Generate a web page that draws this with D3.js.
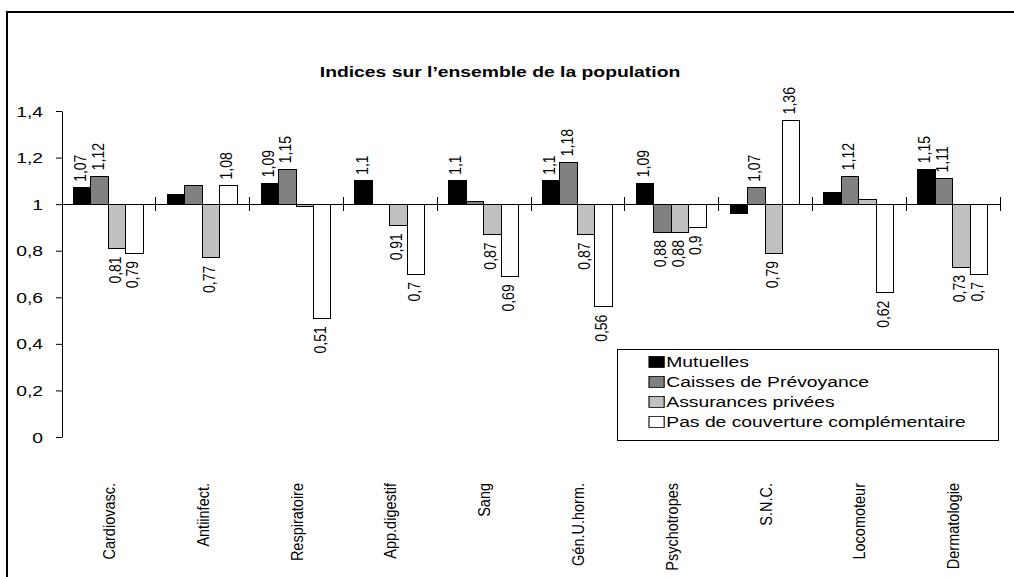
<!DOCTYPE html>
<html lang="fr">
<head>
<meta charset="UTF-8">
<title>Indices sur l'ensemble de la population</title>
<script src="https://d3js.org/d3.v7.min.js"></script>
<style>
  body { margin: 0; background: #fff; }
  svg { display: block; font-family: Arial, "Liberation Sans", sans-serif; }
  text { fill: #000; }
</style>
</head>
<body>
<svg width="1014" height="577"></svg>
<script>
// données
const categories = ["Cardiovasc.", "Antiinfect.", "Respiratoire", "App.digestif", "Sang",
                    "Gén.U.horm.", "Psychotropes", "S.N.C.", "Locomoteur", "Dermatologie"];
const seriesNames = ["Mutuelles", "Caisses de Prévoyance", "Assurances privées",
                     "Pas de couverture complémentaire"];
const mutuelles   = [1.07, 1.04, 1.09, 1.10, 1.10, 1.10, 1.09, 0.96, 1.05, 1.15];
const caisses     = [1.12, 1.08, 1.15, 1.00, 1.01, 1.18, 0.88, 1.07, 1.12, 1.11];
const assurances  = [0.81, 0.77, 0.99, 0.91, 0.87, 0.87, 0.88, 0.79, 1.02, 0.73];
const sansCouv    = [0.79, 1.08, 0.51, 0.70, 0.69, 0.56, 0.90, 1.36, 0.62, 0.70];
// étiquettes absentes dans l'original : [catégorie, série]
const hiddenLabels = [[1, 0], [1, 1], [2, 2], [3, 1], [4, 1], [7, 0], [8, 0], [8, 2]];
const yTicks = [0, 0.2, 0.4, 0.6, 0.8, 1, 1.2, 1.4];

const values = [mutuelles, caisses, assurances, sansCouv];
const colors = ["#000000", "#808080", "#c0c0c0", "#ffffff"];
const sx = 1.38;   // l'image d'origine est étirée horizontalement
const sxRot = 1.2; // texte vertical
const fmt = d => String(+d.toFixed(2)).replace(".", ",");

const svg = d3.select("svg");
const mLeft = 62, mRight = 1000, mTop = 111, mBottom = 437;

// cadre
svg.append("rect")
  .attr("x", 7).attr("y", 12).attr("width", 1020).attr("height", 580)
  .attr("fill", "none").attr("stroke", "#000").attr("stroke-width", 2);

// titre
svg.append("text")
  .attr("transform", `translate(500,77) scale(${sx},1)`)
  .attr("text-anchor", "middle")
  .style("font-size", "14px").style("font-weight", "bold")
  .text("Indices sur l\u2019ensemble de la population");

const x0 = d3.scaleBand().domain(categories).range([mLeft, mRight]);
const x1 = d3.scaleBand().domain(d3.range(4))
  .range([11.5, x0.bandwidth() - 12.5]);
const y = d3.scaleLinear().domain([0, 1.4]).range([mBottom, mTop]);

// axe Y
const yAxis = svg.append("g")
  .attr("transform", `translate(${mLeft},0)`)
  .call(d3.axisLeft(y).tickValues(yTicks).tickFormat(fmt).tickSize(6).tickSizeOuter(0));
yAxis.select(".domain").attr("stroke", "#000");
yAxis.selectAll(".tick line").attr("stroke", "#000");
yAxis.selectAll(".tick text")
  .attr("x", null).attr("dy", null)
  .attr("transform", `translate(-19,5) scale(${sx},1)`)
  .style("font-size", "14px").style("font-family", "Arial, 'Liberation Sans', sans-serif")
  .attr("fill", "#000");

// barres
const rows = [];
categories.forEach((c, i) => {
  values.forEach((s, j) => rows.push({ c, i, j, v: s[i] }));
});
const hidden = new Set(hiddenLabels.map(d => d[0] + "-" + d[1]));

svg.append("g").attr("shape-rendering", "crispEdges").selectAll("rect")
  .data(rows).join("rect")
  .attr("x", d => x0(d.c) + x1(d.j))
  .attr("width", x1.bandwidth())
  .attr("y", d => y(Math.max(d.v, 1)))
  .attr("height", d => Math.abs(y(d.v) - y(1)))
  .attr("fill", d => colors[d.j])
  .attr("stroke", "#000").attr("stroke-width", 1);

// ligne de base à 1 avec graduations
const base = svg.append("g").attr("shape-rendering", "crispEdges");
base.append("line")
  .attr("x1", mLeft).attr("x2", mRight).attr("y1", y(1)).attr("y2", y(1))
  .attr("stroke", "#000");
base.selectAll("line.tk")
  .data(d3.range(categories.length + 1)).join("line")
  .attr("class", "tk")
  .attr("x1", i => mLeft + i * x0.step()).attr("x2", i => mLeft + i * x0.step())
  .attr("y1", y(1) - 7).attr("y2", y(1) + 7)
  .attr("stroke", "#000");

// étiquettes de valeurs
svg.append("g").selectAll("text")
  .data(rows.filter(d => !hidden.has(d.i + "-" + d.j))).join("text")
  .attr("transform", d => {
    const cx = x0(d.c) + x1(d.j) + x1.bandwidth() / 2 - 2;
    const yy = d.v >= 1 ? y(d.v) - 6 : y(d.v) + 8;
    return `translate(${cx},${yy}) scale(${sxRot},1) rotate(-90)`;
  })
  .attr("text-anchor", d => d.v >= 1 ? "start" : "end")
  .attr("dy", "0.35em")
  .style("font-size", "14px")
  .text(d => fmt(d.v));

// axe des catégories
const xAxis = svg.append("g")
  .attr("transform", `translate(0,483)`)
  .call(d3.axisBottom(x0).tickSize(0));
xAxis.select(".domain").remove();
xAxis.selectAll(".tick text")
  .attr("y", null).attr("dy", null)
  .attr("transform", `scale(${sxRot},1) rotate(-90)`)
  .attr("text-anchor", "end")
  .attr("dy", "0.35em")
  .attr("fill", "#000")
  .style("font-size", "14.5px").style("font-family", "Arial, 'Liberation Sans', sans-serif");

// légende
const legend = svg.append("g");
legend.append("rect")
  .attr("x", 617.5).attr("y", 349.5).attr("width", 381).attr("height", 91)
  .attr("fill", "#fff").attr("stroke", "#000");
const items = legend.selectAll("g.item")
  .data(seriesNames).join("g")
  .attr("class", "item")
  .attr("transform", (d, i) => `translate(649,${362 + i * 20}) scale(${sx},1)`);
items.append("rect")
  .attr("x", 0).attr("y", -5.5).attr("width", 11).attr("height", 11)
  .attr("fill", (d, i) => colors[i]).attr("stroke", "#000").attr("stroke-width", 0.8);
items.append("text")
  .attr("x", 12.5).attr("y", 5)
  .style("font-size", "14px")
  .text(d => d);
</script>
</body>
</html>
